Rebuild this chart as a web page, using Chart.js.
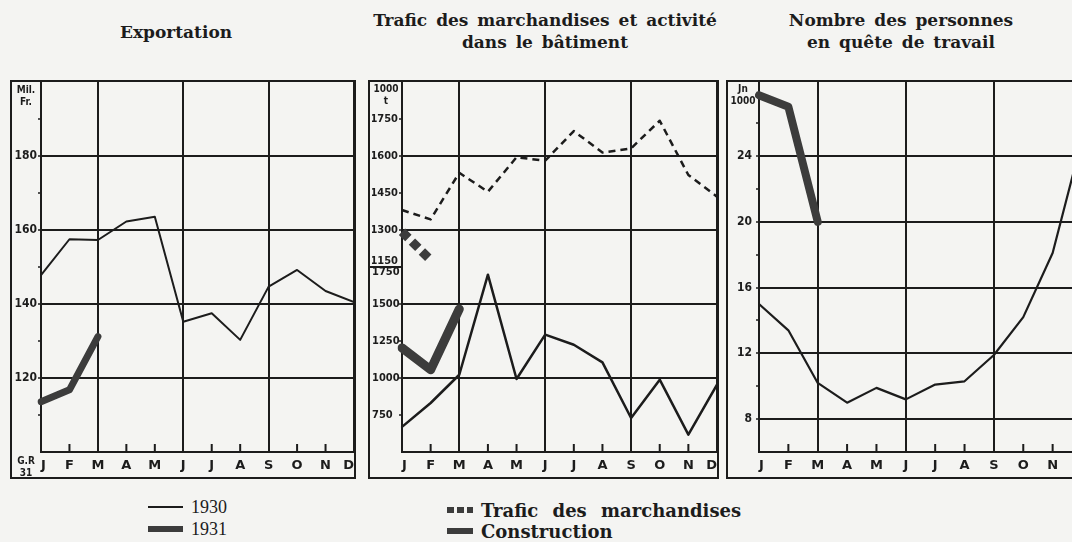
<!DOCTYPE html>
<html>
<head>
<meta charset="utf-8">
<script src="https://cdn.jsdelivr.net/npm/chart.js@4.4.0/dist/chart.umd.min.js"></script>
<style>
html, body { margin: 0; padding: 0; }
body { width: 1072px; height: 542px; background: #f4f4f2; position: relative; overflow: hidden; color: #1c1c1c; font-family: 'DejaVu Serif', serif; }
.box { position: absolute; top: 80px; border: 2px solid #1c1c1c; }
.box canvas { display: block; }
.title { position: absolute; text-align: center; font-weight: bold; font-size: 17px; line-height: 22px; word-spacing: 3px; }
.unit { position: absolute; text-align: center; font-family: 'DejaVu Sans Condensed', 'DejaVu Sans', sans-serif; font-weight: bold; font-size: 10px; line-height: 12px; }
.leg { position: absolute; display: flex; align-items: center; height: 20px; }
.leg .sym { display: inline-block; margin-right: 8px; }
.leg.yr { font-family: 'Liberation Serif', serif; font-size: 18px; }
.leg.ser { font-weight: bold; font-size: 18px; word-spacing: 8px; }
</style>
</head>
<body>

<div class="title" style="left:76px; top:21px; width:200px;">Exportation</div>
<div class="title" style="left:345px; top:9px; width:400px;">Trafic des marchandises et activité<br>dans le bâtiment</div>
<div class="title" style="left:751px; top:9px; width:300px;">Nombre des personnes<br>en quête de travail</div>

<div class="box" style="left:10px;"><canvas id="c1" width="342" height="395"></canvas></div>
<div class="box" style="left:368px;"><canvas id="c2" width="347" height="395"></canvas></div>
<div class="box" style="left:726px;"><canvas id="c3" width="354" height="395"></canvas></div>

<div class="unit" style="left:12px; top:84px; width:28px;">Mil.<br>Fr.</div>
<div class="unit" style="left:12px; top:455px; width:28px;">G.R<br>31</div>
<div class="unit" style="left:371px; top:83px; width:30px;">1000<br>t</div>
<div class="unit" style="left:728px; top:83px; width:30px;">Jn<br>1000</div>

<div class="leg yr" style="left:148px; top:497px;"><span class="sym" style="width:35px; height:2px; background:#1c1c1c;"></span>1930</div>
<div class="leg yr" style="left:148px; top:519px;"><span class="sym" style="width:35px; height:6px; background:#3c3c3c;"></span>1931</div>
<div class="leg ser" style="left:447px; top:500px;"><span class="sym" style="width:26px; height:6px; background:repeating-linear-gradient(90deg,#3c3c3c 0 7px,transparent 7px 10px);"></span>Trafic des marchandises</div>
<div class="leg ser" style="left:447px; top:521px;"><span class="sym" style="width:26px; height:6px; background:#3c3c3c;"></span>Construction</div>

<script>
// mois
const months = ['J', 'F', 'M', 'A', 'M', 'J', 'J', 'A', 'S', 'O', 'N', 'D'];

// Exportation (Mil. Fr.)
const export1930 = [147.8, 157.5, 157.3, 162.3, 163.6, 135.2, 137.5, 130.3, 144.7, 149.2, 143.5, 140.5];
const export1931 = [113.6, 116.8, 131.2];
const exportTicks = [120, 140, 160, 180];

// Trafic des marchandises (1000 t)
const trafic1930 = [1381, 1343, 1532, 1455, 1595, 1581, 1701, 1614, 1631, 1743, 1523, 1435];
const trafic1931 = [1293, 1178];
const traficTicks = [1150, 1300, 1450, 1600, 1750];

// Construction
const constr1930 = [670, 831, 1022, 1698, 993, 1293, 1225, 1106, 730, 989, 617, 955];
const constr1931 = [1203, 1056, 1466];
const constrTicks = [750, 1000, 1250, 1500, 1750];

// Personnes en quête de travail (1000)
const chom1930 = [15.0, 13.4, 10.2, 9.0, 9.9, 9.2, 10.1, 10.3, 11.9, 14.2, 18.1, 25.0];
const chom1931 = [27.7, 27.0, 20.0];
const chomTicks = [8, 12, 16, 20, 24];

const ink = '#1c1c1c';
const thick = '#3c3c3c';
const labelFamily = "'DejaVu Sans Condensed', 'DejaVu Sans', sans-serif";

// petits traits des mois + trait de séparation dans la colonne des échelles
const monthMarks = {
    id: 'monthMarks',
    beforeDatasetsDraw(chart, args, opts) {
        const ctx = chart.ctx;
        const x = chart.scales.x;
        const area = chart.chartArea;
        ctx.save();
        ctx.strokeStyle = ink;
        ctx.lineWidth = 2;
        ctx.beginPath();
        months.forEach((m, i) => {
            if ([0, 2, 5, 8, 11].includes(i)) return;
            const px = x.getPixelForTick(i);
            ctx.moveTo(px, area.bottom);
            ctx.lineTo(px, area.bottom - 8);
        });
        if (opts.sep) {
            const py = chart.scales[opts.sep.axis].getPixelForValue(opts.sep.value);
            ctx.moveTo(0, py);
            ctx.lineTo(area.left, py);
        }
        ctx.stroke();
        ctx.restore();
    }
};

function xScale() {
    return {
        type: 'category',
        offset: false,
        grid: {
            color: c => [2, 5, 8, 11].includes(c.index) ? ink : 'transparent',
            lineWidth: 2,
            drawTicks: false
        },
        border: { color: ink, width: 2 },
        ticks: {
            align: 'inner',
            autoSkip: false,
            maxRotation: 0,
            padding: 6,
            color: ink,
            font: { family: "'DejaVu Sans', sans-serif", weight: 'bold', size: 13 }
        },
        afterFit(s) { s.height = 25; s.paddingLeft = 0; s.paddingRight = 0; }
    };
}

function yScale(o) {
    return {
        type: 'linear',
        position: 'left',
        weight: o.weight || 0,
        min: o.min,
        max: o.max,
        grid: {
            color: c => o.grid.includes(c.tick.value) ? ink : 'transparent',
            lineWidth: 2,
            tickLength: 3,
            tickColor: c => (c.tick.value >= o.lo && c.tick.value <= o.hi) ? ink : 'transparent',
            tickWidth: 1.5
        },
        border: { color: ink, width: 2 },
        ticks: {
            stepSize: o.step,
            autoSkip: false,
            mirror: !!o.mirror,
            padding: o.padding,
            color: ink,
            font: { family: labelFamily, weight: 'bold', size: o.size, lineHeight: 1 },
            callback: o.labels
        },
        afterFit(s) { s.width = o.width; s.paddingTop = 0; s.paddingBottom = 0; }
    };
}

function options(scales, sep) {
    return {
        responsive: false,
        animation: false,
        devicePixelRatio: 1,
        layout: { padding: { left: 2, top: 0, right: 0, bottom: 0 } },
        plugins: { legend: { display: false }, tooltip: { enabled: false }, monthMarks: { sep: sep } },
        elements: {
            point: { radius: 0 },
            line: { tension: 0, borderJoinStyle: 'round', borderCapStyle: 'round' }
        },
        scales: scales
    };
}

const show = list => v => list.includes(v) ? String(v) : '';

// Exportation
new Chart(document.getElementById('c1'), {
    type: 'line',
    data: {
        labels: months,
        datasets: [
            { data: export1930, borderColor: ink, borderWidth: 2 },
            { data: export1931, borderColor: thick, borderWidth: 7 }
        ]
    },
    options: options({
        x: xScale(),
        y: yScale({ min: 100, max: 200, step: 10, labels: show(exportTicks), grid: exportTicks,
                    lo: 110, hi: 190, width: 27, size: 12, padding: 1 })
    }, null),
    plugins: [monthMarks]
});

// Trafic des marchandises et construction
new Chart(document.getElementById('c2'), {
    type: 'line',
    data: {
        labels: months,
        datasets: [
            { data: trafic1930, yAxisID: 'yT', borderColor: ink, borderWidth: 2.5, borderDash: [7, 5], borderCapStyle: 'butt' },
            { data: trafic1931, yAxisID: 'yT', borderColor: thick, borderWidth: 9, borderDash: [9, 5], borderCapStyle: 'butt' },
            { data: constr1930, yAxisID: 'yC', borderColor: ink, borderWidth: 2.5 },
            { data: constr1931, yAxisID: 'yC', borderColor: thick, borderWidth: 9 }
        ]
    },
    options: options({
        x: xScale(),
        yC: yScale({ min: 500, max: 3000, step: 250, grid: [1000, 1500], lo: 750, hi: 1750,
                     labels: v => v === 1750 ? ['', '1750'] : show(constrTicks)(v),
                     width: 0, size: 11, mirror: true, padding: -30 }),
        yT: yScale({ min: 400, max: 1900, step: 150, grid: [1300, 1600], lo: 1150, hi: 1750,
                     labels: v => v === 1150 ? ['1150', ''] : show(traficTicks)(v),
                     width: 30, size: 11, padding: 1, weight: 1 })
    }, { axis: 'yT', value: 1150 }),
    plugins: [monthMarks]
});

// Personnes en quête de travail
new Chart(document.getElementById('c3'), {
    type: 'line',
    data: {
        labels: months,
        datasets: [
            { data: chom1930, borderColor: ink, borderWidth: 2.2 },
            { data: chom1931, borderColor: thick, borderWidth: 8 }
        ]
    },
    options: options({
        x: xScale(),
        y: yScale({ min: 6, max: 28.5, step: 2, labels: show(chomTicks), grid: chomTicks,
                    lo: 8, hi: 26, width: 29, size: 12, padding: 4 })
    }, null),
    plugins: [monthMarks]
});
</script>
</body>
</html>
